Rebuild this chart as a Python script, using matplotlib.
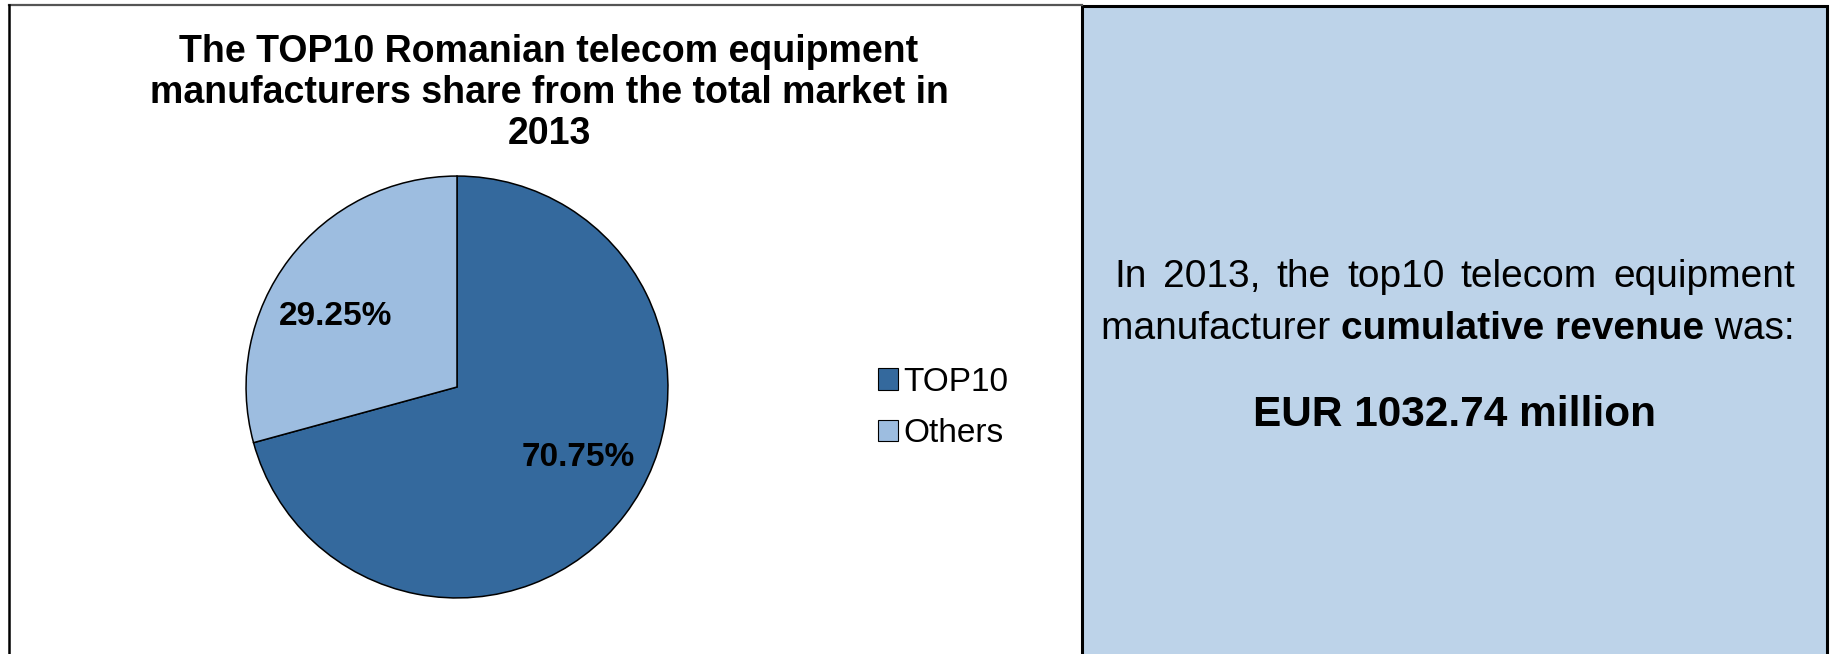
import matplotlib
matplotlib.use('Agg')
import matplotlib.pyplot as plt
import numpy as np
from matplotlib.patches import Rectangle
from matplotlib.lines import Line2D

plt.rcParams['font.family'] = ['Liberation Sans', 'DejaVu Sans']

# data
labels = ['TOP10', 'Others']
shares = [70.75, 29.25]
colors = ['#34699D', '#9DBDE0']
title = 'The TOP10 Romanian telecom equipment\nmanufacturers share from the total market in\n2013'
line1 = 'In 2013, the top10 telecom equipment'
line2 = [('manufacturer ', 'normal'), ('cumulative revenue', 'bold'), (' was:', 'normal')]
revenue = 'EUR 1032.74 million'

W, H = 1831, 654
fig = plt.figure(figsize=(W / 100, H / 100), dpi=100)
fig.patch.set_facecolor('white')

def fx(x):
    return x / W

def fy(y):
    return 1 - y / H

# panel frames
fig.add_artist(Line2D([fx(9), fx(1082)], [fy(5), fy(5)], color='#555555', lw=1.6,
                      transform=fig.transFigure))
fig.add_artist(Line2D([fx(9.5), fx(9.5)], [fy(5), fy(700)], color='black', lw=1.8,
                      transform=fig.transFigure))
fig.add_artist(Rectangle((fx(1082), fy(700)), fx(1827) - fx(1082), fy(6) - fy(700),
                         transform=fig.transFigure, facecolor='#BDD3E9',
                         edgecolor='black', lw=2.2))

# pie
cx, cy, r = 457, 387, 212
ax = fig.add_axes([fx(cx - r), fy(cy + r), 2 * r / W, 2 * r / H])
wedges, _, autotexts = ax.pie(shares, colors=colors, startangle=90, counterclock=False,
                              autopct='%.2f%%', pctdistance=0.67,
                              wedgeprops=dict(edgecolor='black', linewidth=1.1),
                              textprops=dict(fontsize=24, fontweight='bold', color='black'))
# Excel nudges the labels a little counter-clockwise
for wd, t in zip(wedges, autotexts):
    ang = np.deg2rad((wd.theta1 + wd.theta2) / 2 + 7)
    t.set_position((0.665 * np.cos(ang), 0.665 * np.sin(ang)))
ax.set_xlim(-1.005, 1.005)
ax.set_ylim(-1.005, 1.005)
ax.set_aspect('equal')
ax.axis('off')

fig.text(fx(549), fy(93), title, ha='center', va='center', fontsize=27,
         fontweight='bold', linespacing=1.18)

leg = fig.legend(wedges, labels, loc='center left', bbox_to_anchor=(fx(848), fy(408)),
                 frameon=False, fontsize=24, handlelength=0.6, handleheight=0.6,
                 handletextpad=0.15, labelspacing=0.62)
for h in leg.legend_handles:
    h.set_edgecolor('black')
    h.set_linewidth(0.8)

# right panel text
renderer = fig.canvas.get_renderer()
words = line1.split(' ')
x0, x1 = 1114, 1795
tw = []
for w in words:
    t = fig.text(0, 0, w, fontsize=28)
    tw.append(t)
widths = [t.get_window_extent(renderer).width for t in tw]
gap = (x1 - x0 - sum(widths)) / (len(words) - 1)
x = x0
for t, wd in zip(tw, widths):
    t.set_position((fx(x), fy(277)))
    t.set_va('center')
    x += wd + gap

x = 1101
for s, wgt in line2:
    t = fig.text(fx(x), fy(329), s, fontsize=28, fontweight=wgt, va='center')
    x += t.get_window_extent(renderer).width

fig.text(fx(1455), fy(415), revenue, ha='center', va='center', fontsize=30.5,
         fontweight='bold')

fig.savefig('out.png', dpi=100)
